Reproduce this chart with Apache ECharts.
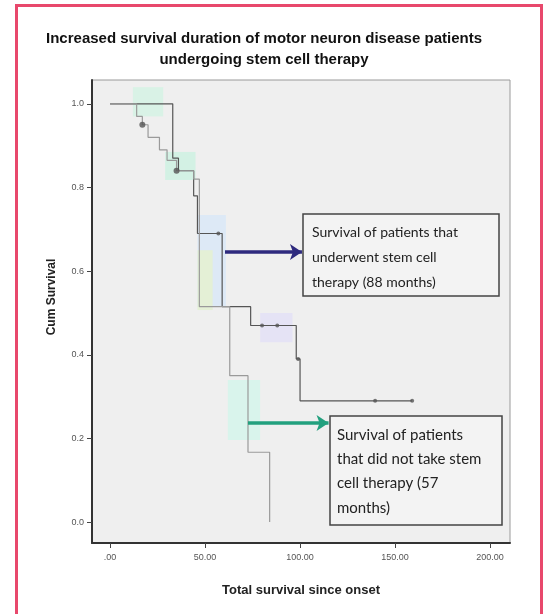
<!DOCTYPE html>
<html><head><meta charset="utf-8">
<script src="https://cdn.jsdelivr.net/npm/echarts@6/dist/echarts.min.js"></script>
<style>html,body{margin:0;padding:0;background:#fff}#c{width:548px;height:614px}</style>
</head><body><div id="c"></div>
<script>
// ---- data ----
const xTicks = [0, 50, 100, 150, 200];
const yTicks = [0, 0.2, 0.4, 0.6, 0.8, 1.0];
// Kaplan-Meier steps [months, cumulative survival]
const stemCellCurve = [[0,1.0],[33,0.87],[36,0.84],[44,0.78],[46,0.69],[59,0.515],[74,0.47],[98,0.39],[100,0.29],[159,0.29]];
const noStemCellCurve = [[0,1.0],[14,0.97],[17,0.95],[20,0.92],[26,0.89],[30,0.865],[35,0.84],[44,0.82],[47,0.515],[63,0.35],[72.6,0.167],[84,0.0]];
const stemCellCensored = [[57,0.69],[80,0.47],[88,0.47],[99,0.39],[139.5,0.29],[159,0.29]];
const noStemCellCensored = [[17,0.95],[35,0.84]];
const stemArrow = [[60.5,0.646],[101,0.646]];
const noStemArrow = [[72.6,0.237],[115,0.237]];
const highlights = [
  [[12,1.04],[28,0.97],'#d9f2e6'],
  [[29,0.885],[45,0.818],'#d3f1e4'],
  [[46,0.734],[61,0.515],'#dde9f6'],
  [[46,0.65],[54,0.507],'#e4f0d6'],
  [[79,0.50],[96,0.43],'#e5e3f5'],
  [[62,0.34],[79,0.196],'#d9f4ec']
];
const titleLines = ['Increased survival duration of motor neuron disease patients','undergoing stem cell therapy'];
const box1Lines = ['Survival of patients that','underwent stem cell','therapy (88 months)'];
const box2Lines = ['Survival of patients','that did not take stem','cell therapy (57','months)'];

const chart = echarts.init(document.getElementById('c'), null, {renderer:'canvas'});
const lbl = {color:'#555', fontSize:9, fontFamily:'Liberation Sans'};
chart.setOption({
  animation:false,
  backgroundColor:'#fff',
  grid:{left:92, right:38, top:80, bottom:71, show:true, backgroundColor:'#efefef', borderColor:'#9a9a9a', borderWidth:1},
  xAxis:{type:'value', min:-9.5, max:210.5,
    name:'Total survival since onset', nameLocation:'middle', nameGap:41,
    nameTextStyle:{fontFamily:'Liberation Sans', fontWeight:'bold', fontSize:13, color:'#222'},
    axisLine:{show:true, onZero:false, lineStyle:{color:'#333', width:2}},
    axisTick:{show:true, customValues:xTicks, length:5, lineStyle:{color:'#444'}},
    axisLabel:Object.assign({customValues:xTicks, margin:10, formatter:v=> v===0?'.00':v.toFixed(2)}, lbl),
    splitLine:{show:false}},
  yAxis:{type:'value', min:-0.05, max:1.057,
    axisLine:{show:true, onZero:false, lineStyle:{color:'#333', width:2}},
    axisTick:{show:true, customValues:yTicks, length:5, lineStyle:{color:'#444'}},
    axisLabel:Object.assign({customValues:yTicks, margin:8, formatter:v=>v.toFixed(1)}, lbl),
    splitLine:{show:false}},
  series:[
    {type:'line', step:'end', data:stemCellCurve, showSymbol:false, z:3,
      lineStyle:{color:'#555', width:1.2},
      markArea:{silent:true, data:highlights.map(h=>[{coord:h[0], itemStyle:{color:h[2]}},{coord:h[1]}])}},
    {type:'line', step:'end', data:noStemCellCurve, showSymbol:false, z:3,
      lineStyle:{color:'#9a9a9a', width:1.2}},
    {type:'scatter', data:stemCellCensored, symbol:'circle', symbolSize:4, itemStyle:{color:'#555'}, z:4},
    {type:'scatter', data:noStemCellCensored, symbol:'circle', symbolSize:6, itemStyle:{color:'#555'}, z:4},
    {type:'line', data:[], markLine:{silent:true, symbol:['none','arrow'], symbolSize:[12,12], label:{show:false},
      data:[
        [{coord:stemArrow[0], lineStyle:{color:'#2e2a7e', width:3.5, type:'solid'}},{coord:stemArrow[1]}],
        [{coord:noStemArrow[0], lineStyle:{color:'#22a07e', width:3.5, type:'solid'}},{coord:noStemArrow[1]}]
      ]}}
  ],
  graphic:[
    {type:'rect', shape:{x:16.5, y:5.5, width:525, height:640}, style:{fill:'none', stroke:'#e8486c', lineWidth:3}, silent:true},
    {type:'text', x:264, y:39, style:{text:titleLines[0], font:'bold 15px "Liberation Sans"', fill:'#111', textAlign:'center', textVerticalAlign:'middle'}},
    {type:'text', x:264, y:60, style:{text:titleLines[1], font:'bold 15px "Liberation Sans"', fill:'#111', textAlign:'center', textVerticalAlign:'middle'}},
    {type:'text', x:52, y:297, rotation:Math.PI/2, style:{text:'Cum Survival', font:'bold 12px "Liberation Sans"', fill:'#222', textAlign:'center', textVerticalAlign:'middle'}},
    {type:'group', x:303, y:214, z:10, children:[
      {type:'rect', shape:{x:0,y:0,width:196,height:82}, style:{fill:'#f3f3f3', stroke:'#444', lineWidth:1.5}},
      {type:'text', x:9, y:18, style:{text:box1Lines[0], font:'14px Lato', fill:'#222', textVerticalAlign:'middle'}},
      {type:'text', x:9, y:43, style:{text:box1Lines[1], font:'14px Lato', fill:'#222', textVerticalAlign:'middle'}},
      {type:'text', x:9, y:68, style:{text:box1Lines[2], font:'14px Lato', fill:'#222', textVerticalAlign:'middle'}}
    ]},
    {type:'group', x:330, y:416, z:10, children:[
      {type:'rect', shape:{x:0,y:0,width:172,height:109}, style:{fill:'#f3f3f3', stroke:'#444', lineWidth:1.5}},
      {type:'text', x:7, y:19, style:{text:box2Lines[0], font:'15px Lato', fill:'#222', textVerticalAlign:'middle'}},
      {type:'text', x:7, y:43, style:{text:box2Lines[1], font:'15px Lato', fill:'#222', textVerticalAlign:'middle'}},
      {type:'text', x:7, y:67, style:{text:box2Lines[2], font:'15px Lato', fill:'#222', textVerticalAlign:'middle'}},
      {type:'text', x:7, y:92, style:{text:box2Lines[3], font:'15px Lato', fill:'#222', textVerticalAlign:'middle'}}
    ]}
  ]
});
</script></body></html>
